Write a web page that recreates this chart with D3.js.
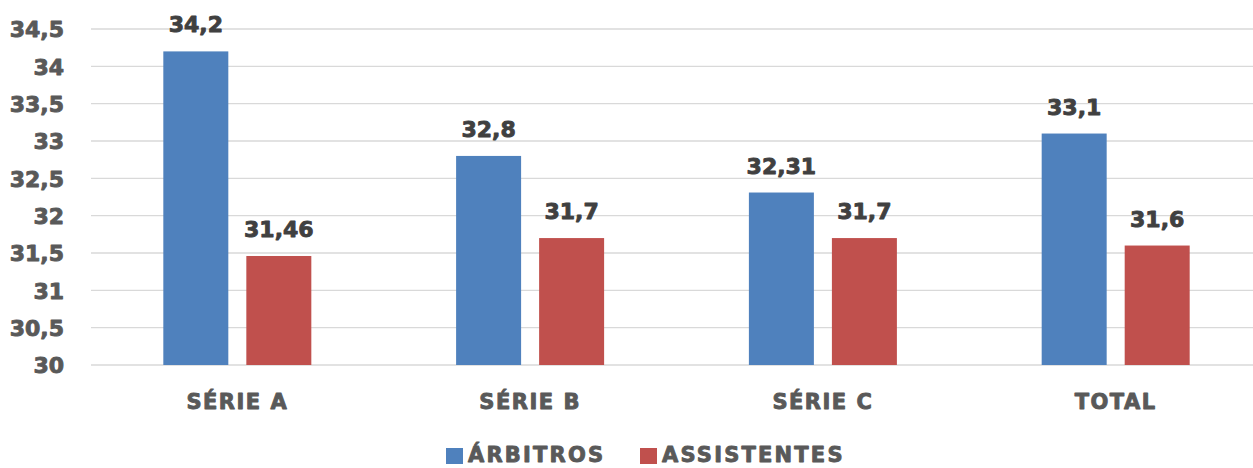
<!DOCTYPE html>
<html><head><meta charset="utf-8">
<script src="https://cdn.jsdelivr.net/npm/d3@7"></script>
<style>
html,body{margin:0;padding:0;background:#fff;}
text{font-family:"DejaVu Sans",sans-serif;font-weight:bold;}
</style></head>
<body><svg id="c" width="1253" height="468"></svg>
<script>
const categories = ["SÉRIE A","SÉRIE B","SÉRIE C","TOTAL"];
const seriesNames = ["ÁRBITROS","ASSISTENTES"];
const arbitros = [34.2, 32.8, 32.31, 33.1];
const assistentes = [31.46, 31.7, 31.7, 31.6];
const yTicks = [30,30.5,31,31.5,32,32.5,33,33.5,34,34.5];
const colors = ["#4f81bd","#c0504d"];

const svg = d3.select("#c");
const fmt = v => String(v).replace(".", ",");
const y = d3.scaleLinear().domain([30,34.5]).range([365,29]);
const x0 = d3.scaleBand().domain(categories).range([91,1262]).paddingInner(0.4945).paddingOuter(0.247);
const x1 = d3.scaleBand().domain(seriesNames).range([0,x0.bandwidth()]).paddingInner(0.217);

function heavy(sel, col){
  sel.attr("fill",col).attr("stroke",col).attr("stroke-width",0.9).attr("stroke-linejoin","round");
}

// gridlines
svg.append("g").selectAll("line").data(yTicks).join("line")
  .attr("x1",91).attr("x2",1253).attr("y1",d=>y(d)).attr("y2",d=>y(d))
  .attr("stroke","#d9d9d9").attr("stroke-width",1.4);

// y axis labels
const yAxis = d3.axisLeft(y).tickValues(yTicks).tickFormat(fmt).tickSize(0).tickPadding(0);
const ya = svg.append("g").attr("transform","translate(64,0)").call(yAxis);
ya.select(".domain").remove();
ya.selectAll("text").style("font-size","22px").style("font-family","DejaVu Sans").style("font-weight","bold").attr("dy","0.36em")
  .call(heavy,"#595959");

const data = categories.map((c,i)=>({cat:c, vals:[arbitros[i], assistentes[i]]}));
const g = svg.append("g").selectAll("g").data(data).join("g")
  .attr("transform", d=>`translate(${x0(d.cat)},0)`);
g.selectAll("rect").data(d=>d.vals.map((v,j)=>({s:seriesNames[j], v, j}))).join("rect")
  .attr("x",d=>x1(d.s)).attr("width",x1.bandwidth())
  .attr("y",d=>y(d.v)).attr("height",d=>y(30)-y(d.v))
  .attr("fill",d=>colors[d.j]);
g.selectAll("text.lbl").data(d=>d.vals.map((v,j)=>({s:seriesNames[j], v, j}))).join("text")
  .attr("class","lbl")
  .attr("x",d=>x1(d.s)+x1.bandwidth()/2).attr("y",d=>y(d.v)-19)
  .attr("text-anchor","middle").style("font-size","22px")
  .call(heavy,"#404040")
  .text(d=>fmt(d.v));

// category axis
const xAxis = d3.axisBottom(x0).tickSize(0).tickPadding(0);
const xa = svg.append("g").attr("transform","translate(0,409)").call(xAxis);
xa.select(".domain").remove();
xa.selectAll("text").style("font-size","21px").style("font-family","DejaVu Sans").style("font-weight","bold").attr("dy","0").style("letter-spacing","1.5px")
  .call(heavy,"#595959");

// legend
const legX = [446, 640];
const lg = svg.append("g").selectAll("g").data(seriesNames).join("g")
  .attr("transform",(d,i)=>`translate(${legX[i]},0)`);
lg.append("rect").attr("x",0).attr("y",448).attr("width",17).attr("height",16).attr("fill",(d,i)=>colors[i]);
lg.append("text").attr("x",22).attr("y",462).style("font-size","21px").style("letter-spacing","2.2px")
  .call(heavy,"#595959").text(d=>d);
</script></body></html>
